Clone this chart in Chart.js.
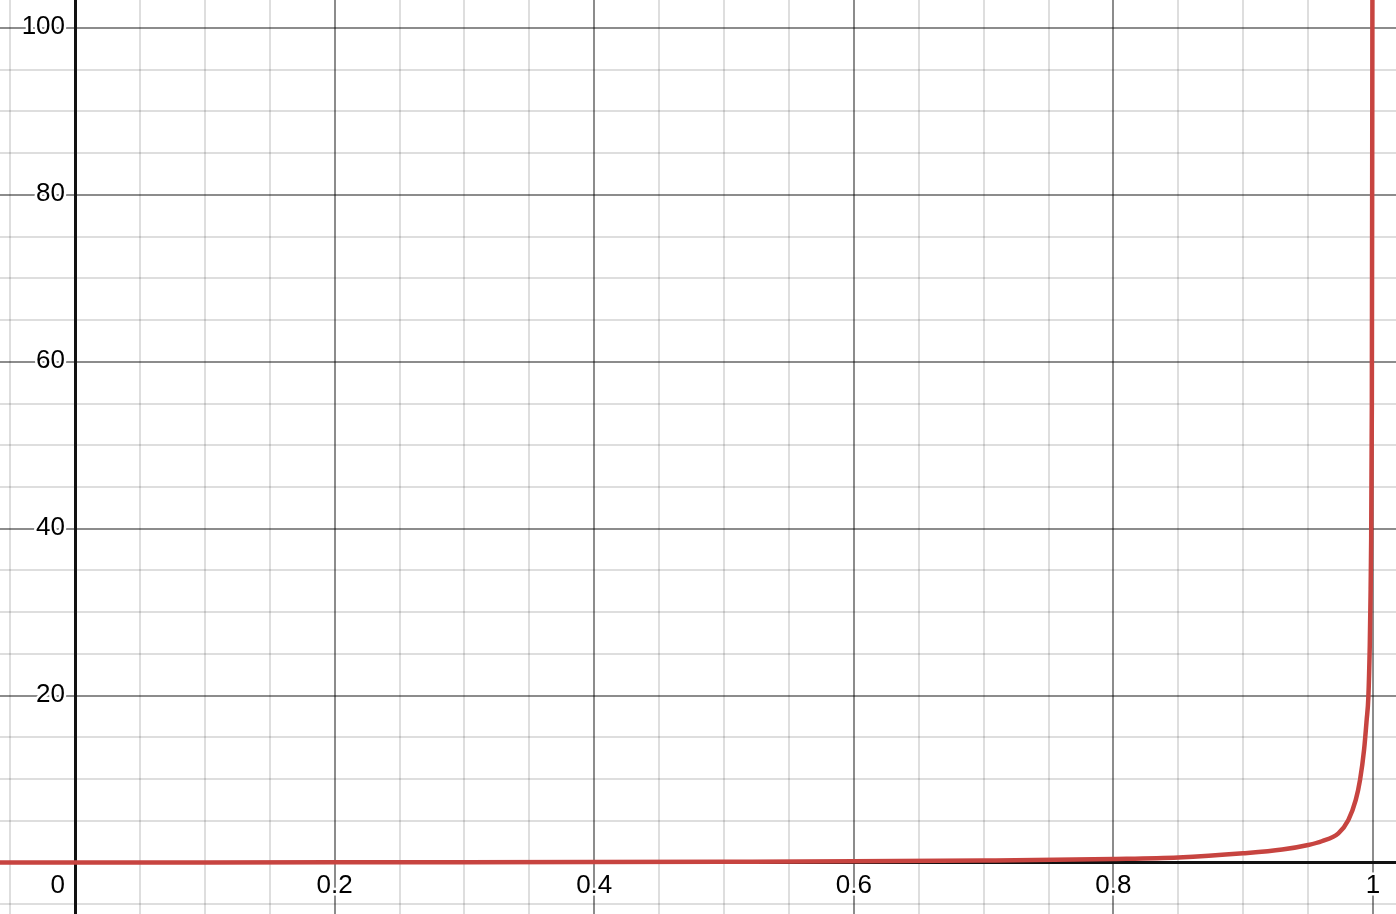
<!DOCTYPE html>
<html>
<head>
<meta charset="utf-8">
<script src="https://cdn.jsdelivr.net/npm/chart.js@4.4.0/dist/chart.umd.min.js"></script>
<style>
  html, body { margin: 0; padding: 0; background: #fff; }
  #wrap { width: 1396px; height: 914px; position: relative; }
</style>
</head>
<body>
<div id="wrap"><canvas id="myChart"></canvas></div>
<script>
  // curve
  const xValues = [-0.06, 0, 0.1, 0.2, 0.3, 0.4, 0.5, 0.6, 0.7, 0.8, 0.85, 0.9, 0.93, 0.95,
    0.9605, 0.9733, 0.981, 0.9867, 0.99, 0.9931, 0.9951, 0.9964, 0.9975,
    0.9981, 0.9984, 0.9991, 0.9995, 0.99955];
  const yValues = [0, 0, 0.01, 0.025, 0.04, 0.06, 0.09, 0.14, 0.24, 0.42, 0.6, 1.1, 1.55, 2.1,
    2.55, 3.5, 5.1, 7.5, 9.9, 13.5, 17.1, 19.8, 26,
    32, 36, 55, 100, 106];

  // visible window and tick labels
  const xRange = [-0.0578, 1.0177];
  const yRange = [-6.17, 103.36];
  const xLabels = [0.2, 0.4, 0.6, 0.8, 1];
  const yLabels = [20, 40, 60, 80, 100];

  const majorColor = 'rgba(0,0,0,0.45)';
  const minorColor = 'rgba(0,0,0,0.13)';
  const fontFamily = '"Liberation Sans", Arial, Helvetica, sans-serif';
  const fontSize = 26;

  function isMajor(v, step) {
    return Math.abs(v / step - Math.round(v / step)) < 1e-6;
  }

  function hasLabel(list, v) {
    return list.some(l => Math.abs(l - v) < 1e-6);
  }

  // axes sit inside the plot, so they must not take space
  function noSpace(scale) {
    if (scale.isHorizontal()) scale.height = 0; else scale.width = 0;
    scale.paddingTop = 0;
    scale.paddingBottom = 0;
    scale.paddingLeft = 0;
    scale.paddingRight = 0;
  }

  function haloText(ctx, text, x, y) {
    ctx.lineWidth = 5;
    ctx.strokeStyle = '#fff';
    ctx.strokeText(text, x, y);
    ctx.fillStyle = '#000';
    ctx.fillText(text, x, y);
  }

  // y labels and the "0" sit left of the y axis
  const axisLabels = {
    id: 'axisLabels',
    beforeDatasetsDraw(chart) {
      const ctx = chart.ctx;
      const xs = chart.scales.x;
      const ys = chart.scales.y;
      const left = xs.getPixelForValue(0) - 10;
      ctx.save();
      ctx.font = fontSize + 'px ' + fontFamily;
      ctx.textAlign = 'right';
      ctx.textBaseline = 'middle';
      yLabels.forEach(v => haloText(ctx, String(v), left, ys.getPixelForValue(v) - 1));
      haloText(ctx, '0', left, ys.getPixelForValue(0) + 8 + fontSize * 1.2 / 2);
      ctx.restore();
    }
  };

  Chart.defaults.font.family = fontFamily;
  Chart.defaults.font.size = fontSize;

  (function () {
    const points = xValues.map((x, i) => ({ x: x, y: yValues[i] }));

    new Chart(document.getElementById('myChart'), {
      type: 'line',
      data: {
        datasets: [{
          data: points,
          borderColor: '#c74440',
          borderWidth: 4.5,
          pointRadius: 0,
          fill: false,
          cubicInterpolationMode: 'monotone'
        }]
      },
      options: {
        responsive: true,
        maintainAspectRatio: false,
        animation: false,
        layout: { padding: 0 },
        plugins: {
          legend: { display: false },
          tooltip: { enabled: false }
        },
        scales: {
          x: {
            type: 'linear',
            position: { y: 0 },
            min: xRange[0],
            max: xRange[1],
            afterFit: noSpace,
            grid: {
              drawTicks: false,
              lineWidth: 2,
              color: ctx => isMajor(ctx.tick.value, 0.2) ? majorColor : minorColor
            },
            border: { display: true, color: '#111', width: 3 },
            ticks: {
              stepSize: 0.05,
              includeBounds: false,
              autoSkip: false,
              maxRotation: 0,
              padding: 8,
              color: '#000',
              textStrokeColor: '#fff',
              textStrokeWidth: 5,
              callback: v => hasLabel(xLabels, v) ? String(Math.round(v * 10) / 10) : ''
            }
          },
          y: {
            type: 'linear',
            position: { x: 0 },
            min: yRange[0],
            max: yRange[1],
            afterFit: noSpace,
            grid: {
              drawTicks: false,
              lineWidth: 2,
              color: ctx => isMajor(ctx.tick.value, 20) ? majorColor : minorColor
            },
            border: { display: true, color: '#111', width: 3 },
            ticks: {
              display: false,
              stepSize: 5,
              includeBounds: false,
              autoSkip: false
            }
          }
        }
      },
      plugins: [axisLabels]
    });
  })();
</script>
</body>
</html>
